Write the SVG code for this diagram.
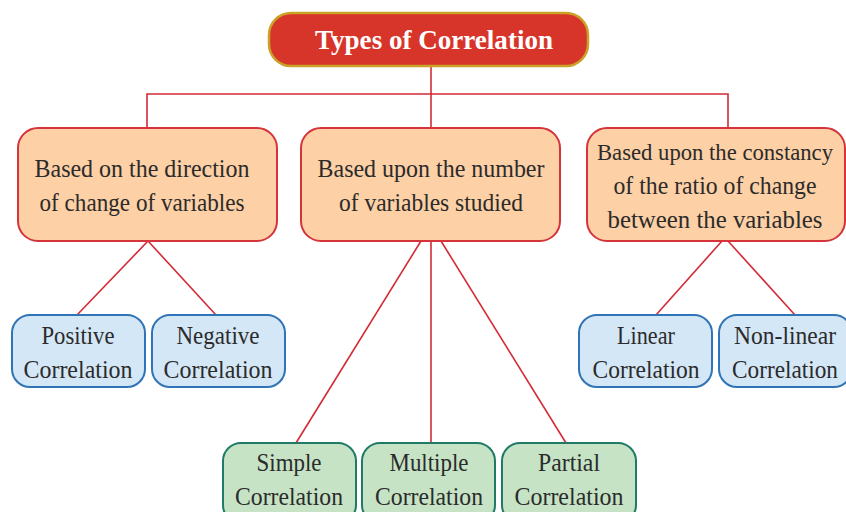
<svg xmlns="http://www.w3.org/2000/svg" width="846" height="512" viewBox="0 0 846 512">
<style>
text{font-family:"Liberation Serif","Times New Roman",serif;text-anchor:middle;fill:#2b2b2b;font-size:24.5px}
.title{fill:#ffffff;font-weight:bold;font-size:27px}
.small{font-size:23px}
.titlebox{fill:#d8352a;stroke:#c9a227;stroke-width:2.5}
.cat{fill:#fdd0a6;stroke:#d4343a;stroke-width:2}
.blue{fill:#d4e7f7;stroke:#2f75b5;stroke-width:2}
.green{fill:#c6e3c6;stroke:#1f7a66;stroke-width:2}
.conn line,.conn polyline{stroke:#d42a36;stroke-width:1.6;fill:none}
</style>
<rect width="846" height="512" fill="#ffffff"/>
<g class="conn" id="connectors">
<line x1="431" y1="66" x2="431" y2="128"/>
<polyline points="147,128 147,94 728,94 728,128"/>
<line x1="148" y1="241" x2="77" y2="315"/>
<line x1="148" y1="241" x2="216" y2="315"/>
<line x1="421" y1="241" x2="296" y2="443"/>
<line x1="431" y1="241" x2="431" y2="443"/>
<line x1="441" y1="241" x2="566" y2="443"/>
<line x1="722" y1="241" x2="656" y2="315"/>
<line x1="728" y1="241" x2="795" y2="315"/>
</g>
<g id="title">
<rect class="titlebox" x="269" y="13" width="319" height="53" rx="22"/>
<text class="title" x="434" y="49" textLength="238" lengthAdjust="spacingAndGlyphs">Types of Correlation</text>
</g>
<g id="direction">
<rect class="cat" x="18" y="128" width="259" height="113" rx="20"/>
<text x="142" y="177" textLength="215" lengthAdjust="spacingAndGlyphs">Based on the direction</text>
<text x="142" y="211" textLength="205" lengthAdjust="spacingAndGlyphs">of change of variables</text>
</g>
<g id="number">
<rect class="cat" x="301" y="128" width="259" height="113" rx="20"/>
<text x="431" y="177" textLength="227" lengthAdjust="spacingAndGlyphs">Based upon the number</text>
<text x="431" y="211" textLength="184" lengthAdjust="spacingAndGlyphs">of variables studied</text>
</g>
<g id="constancy">
<rect class="cat" x="587" y="128" width="258" height="113" rx="20"/>
<text class="small" x="715" y="160" textLength="236" lengthAdjust="spacingAndGlyphs">Based upon the constancy</text>
<text x="715" y="194" textLength="203" lengthAdjust="spacingAndGlyphs">of the ratio of change</text>
<text x="715" y="228" textLength="215" lengthAdjust="spacingAndGlyphs">between the variables</text>
</g>
<g id="positive">
<rect class="blue" x="12" y="315" width="133" height="72" rx="18"/>
<text x="78" y="344" textLength="73" lengthAdjust="spacingAndGlyphs">Positive</text>
<text x="78" y="378" textLength="109" lengthAdjust="spacingAndGlyphs">Correlation</text>
</g>
<g id="negative">
<rect class="blue" x="152" y="315" width="133" height="72" rx="18"/>
<text x="218" y="344" textLength="83" lengthAdjust="spacingAndGlyphs">Negative</text>
<text x="218" y="378" textLength="109" lengthAdjust="spacingAndGlyphs">Correlation</text>
</g>
<g id="linear">
<rect class="blue" x="579" y="315" width="133" height="72" rx="18"/>
<text x="646" y="344" textLength="58" lengthAdjust="spacingAndGlyphs">Linear</text>
<text x="646" y="378" textLength="107" lengthAdjust="spacingAndGlyphs">Correlation</text>
</g>
<g id="nonlinear">
<rect class="blue" x="719" y="315" width="133" height="72" rx="18"/>
<text x="785" y="344" textLength="102" lengthAdjust="spacingAndGlyphs">Non-linear</text>
<text x="785" y="378" textLength="106" lengthAdjust="spacingAndGlyphs">Correlation</text>
</g>
<g id="simple">
<rect class="green" x="223" y="443" width="133" height="80" rx="18"/>
<text x="289" y="471" textLength="65" lengthAdjust="spacingAndGlyphs">Simple</text>
<text x="289" y="505" textLength="108" lengthAdjust="spacingAndGlyphs">Correlation</text>
</g>
<g id="multiple">
<rect class="green" x="362" y="443" width="133" height="80" rx="18"/>
<text x="429" y="471" textLength="79" lengthAdjust="spacingAndGlyphs">Multiple</text>
<text x="429" y="505" textLength="108" lengthAdjust="spacingAndGlyphs">Correlation</text>
</g>
<g id="partial">
<rect class="green" x="502" y="443" width="134" height="80" rx="18"/>
<text x="569" y="471" textLength="62" lengthAdjust="spacingAndGlyphs">Partial</text>
<text x="569" y="505" textLength="109" lengthAdjust="spacingAndGlyphs">Correlation</text>
</g>
</svg>
